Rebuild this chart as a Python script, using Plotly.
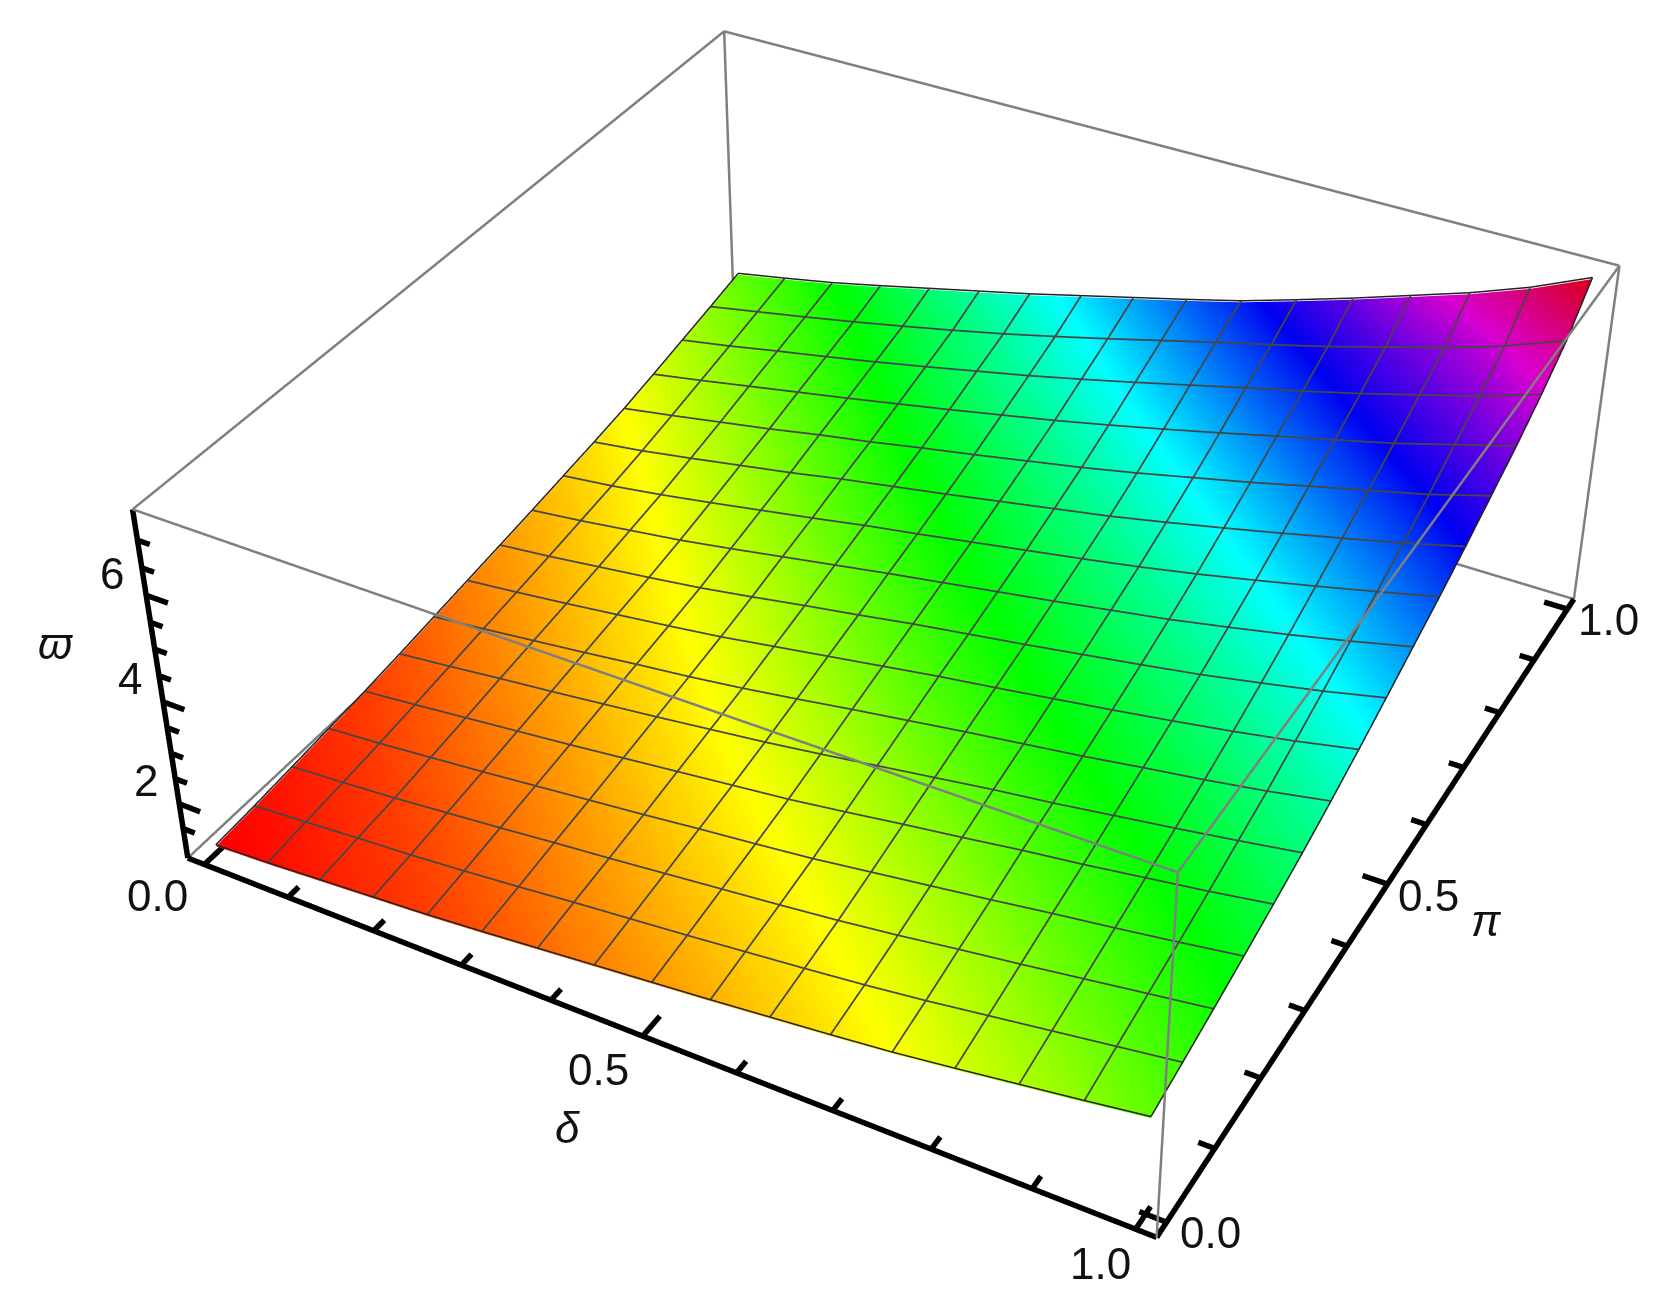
import plotly.graph_objects as go

delta = [0, 0.0625, 0.125, 0.1875, 0.25, 0.3125, 0.375, 0.4375, 0.5, 0.5625, 0.625, 0.6875, 0.75, 0.8125, 0.875, 0.9375, 1]
pi_vals = [0, 0.0625, 0.125, 0.1875, 0.25, 0.3125, 0.375, 0.4375, 0.5, 0.5625, 0.625, 0.6875, 0.75, 0.8125, 0.875, 0.9375, 1]
varpi = [
    [1.03, 1.08, 1.15, 1.22, 1.29, 1.38, 1.48, 1.58, 1.68, 1.78, 1.89, 2.00, 2.12, 2.27, 2.43, 2.59, 2.76],
    [1.08, 1.15, 1.23, 1.30, 1.39, 1.49, 1.60, 1.70, 1.80, 1.91, 2.02, 2.14, 2.28, 2.44, 2.60, 2.76, 2.92],
    [1.15, 1.22, 1.30, 1.40, 1.50, 1.61, 1.71, 1.82, 1.93, 2.04, 2.16, 2.30, 2.46, 2.61, 2.77, 2.93, 3.09],
    [1.22, 1.30, 1.40, 1.50, 1.61, 1.72, 1.83, 1.95, 2.06, 2.18, 2.33, 2.48, 2.63, 2.79, 2.94, 3.10, 3.27],
    [1.29, 1.39, 1.50, 1.61, 1.72, 1.84, 1.96, 2.08, 2.20, 2.35, 2.51, 2.66, 2.82, 2.96, 3.12, 3.28, 3.46],
    [1.38, 1.49, 1.61, 1.72, 1.84, 1.96, 2.09, 2.22, 2.37, 2.53, 2.69, 2.85, 2.99, 3.15, 3.31, 3.48, 3.66],
    [1.48, 1.59, 1.71, 1.83, 1.96, 2.08, 2.22, 2.38, 2.55, 2.71, 2.87, 3.02, 3.17, 3.34, 3.50, 3.68, 3.89],
    [1.58, 1.69, 1.81, 1.94, 2.07, 2.21, 2.38, 2.55, 2.72, 2.89, 3.04, 3.20, 3.36, 3.53, 3.71, 3.91, 4.14],
    [1.68, 1.79, 1.92, 2.05, 2.19, 2.36, 2.54, 2.71, 2.89, 3.05, 3.21, 3.38, 3.55, 3.73, 3.94, 4.16, 4.41],
    [1.78, 1.90, 2.04, 2.18, 2.35, 2.53, 2.71, 2.89, 3.06, 3.23, 3.40, 3.58, 3.76, 3.97, 4.19, 4.43, 4.69],
    [1.89, 2.01, 2.16, 2.33, 2.51, 2.69, 2.88, 3.05, 3.23, 3.41, 3.59, 3.78, 3.99, 4.22, 4.46, 4.71, 4.97],
    [2.00, 2.14, 2.31, 2.49, 2.67, 2.87, 3.05, 3.23, 3.42, 3.61, 3.80, 4.02, 4.25, 4.49, 4.74, 4.99, 5.27],
    [2.12, 2.29, 2.47, 2.65, 2.85, 3.03, 3.23, 3.42, 3.62, 3.82, 4.04, 4.28, 4.52, 4.78, 5.03, 5.29, 5.60],
    [2.27, 2.45, 2.64, 2.83, 3.02, 3.22, 3.42, 3.63, 3.84, 4.07, 4.31, 4.56, 4.82, 5.07, 5.33, 5.63, 5.93],
    [2.43, 2.61, 2.81, 3.00, 3.20, 3.41, 3.63, 3.85, 4.09, 4.34, 4.60, 4.86, 5.11, 5.38, 5.67, 5.96, 6.31],
    [2.59, 2.78, 2.97, 3.17, 3.38, 3.60, 3.83, 4.08, 4.34, 4.61, 4.88, 5.14, 5.41, 5.71, 6.00, 6.34, 6.75],
    [2.76, 2.95, 3.15, 3.38, 3.62, 3.86, 4.10, 4.36, 4.62, 4.88, 5.15, 5.47, 5.80, 6.15, 6.50, 6.90, 7.38],
]

x_range = [-0.02, 1.02]
y_range = [-0.02, 1.02]
z_range = [0.90, 7.55]
xy_major = [0.0, 0.5, 1.0]
xy_minor = [0.1, 0.2, 0.3, 0.4, 0.6, 0.7, 0.8, 0.9]
z_major = [2, 4, 6]
z_minor = [1.5, 2.5, 3, 3.5, 4.5, 5, 5.5, 6.5, 7]
z_min_value = 1.03
z_max_value = 7.42

hue = [[0, "#ff0000"], [1/6, "#ffff00"], [1/3, "#00ff00"], [1/2, "#00ffff"],
       [2/3, "#0000f0"], [5/6, "#d800d0"], [1, "#d8000f"]]


def segs(pairs):
    xs, ys, zs = [], [], []
    for a, b in pairs:
        xs += [a[0], b[0], None]
        ys += [a[1], b[1], None]
        zs += [a[2], b[2], None]
    return xs, ys, zs


def widen(rng, factor):
    mid = (rng[0] + rng[1]) / 2
    half = (rng[1] - rng[0]) / 2 * factor
    return [mid - half, mid + half]


x0, x1 = x_range
y0, y1 = y_range
z0, z1 = z_range
PAD = 1.03  # keeps lines on the box faces away from the scene's clipping planes
LIFT = 0.03  # keeps mesh lines just above the surface

box_edges = [
    ((x0, y0, z1), (x1, y0, z1)), ((x1, y0, z1), (x1, y1, z1)),
    ((x1, y1, z1), (x0, y1, z1)), ((x0, y1, z1), (x0, y0, z1)),
    ((x0, y0, z0), (x0, y1, z0)), ((x0, y1, z0), (x1, y1, z0)),
    ((x1, y0, z0), (x1, y0, z1)), ((x1, y1, z0), (x1, y1, z1)),
    ((x0, y1, z0), (x0, y1, z1)),
]
axis_edges = [
    ((x0, y0, z0), (x1, y0, z0)),
    ((x1, y0, z0), (x1, y1, z0)),
    ((x0, y0, z0), (x0, y0, z1)),
]
ticks = []
for v in xy_major:
    ticks.append(((v, y0, z0), (v, y0 + 0.03, z0)))
    ticks.append(((x1, v, z0), (x1 - 0.026, v, z0)))
for v in xy_minor:
    ticks.append(((v, y0, z0), (v, y0 + 0.017, z0)))
    ticks.append(((x1, v, z0), (x1 - 0.016, v, z0)))
for v in z_major:
    ticks.append(((x0, y0, v), (x0 + 0.025, y0, v)))
for v in z_minor:
    ticks.append(((x0, y0, v), (x0 + 0.014, y0, v)))

n = len(delta)
mesh_pairs, edge_pairs = [], []
for j in range(n):
    for i in range(n - 1):
        along_x = ((delta[i], pi_vals[j], varpi[j][i] + LIFT), (delta[i + 1], pi_vals[j], varpi[j][i + 1] + LIFT))
        along_y = ((delta[j], pi_vals[i], varpi[i][j] + LIFT), (delta[j], pi_vals[i + 1], varpi[i + 1][j] + LIFT))
        target = edge_pairs if j in (0, n - 1) else mesh_pairs
        target.append(along_x)
        target.append(along_y)

fig = go.Figure()
fig.add_trace(go.Surface(
    x=delta, y=pi_vals, z=varpi,
    surfacecolor=varpi, cmin=z_min_value, cmax=z_max_value,
    colorscale=hue, showscale=False, hoverinfo="skip",
    lighting=dict(ambient=1, diffuse=0, specular=0, roughness=1, fresnel=0),
    contours=dict(x=dict(show=False, highlight=False), y=dict(show=False, highlight=False),
                  z=dict(show=False, highlight=False)),
))
mx, my, mz = segs(mesh_pairs)
fig.add_trace(go.Scatter3d(x=mx, y=my, z=mz, mode="lines", hoverinfo="skip", showlegend=False,
                           line=dict(color="#464646", width=3.5)))
ex, ey, ez = segs(edge_pairs)
fig.add_trace(go.Scatter3d(x=ex, y=ey, z=ez, mode="lines", hoverinfo="skip", showlegend=False,
                           line=dict(color="#222222", width=3)))
bx, by, bz = segs(box_edges)
fig.add_trace(go.Scatter3d(x=bx, y=by, z=bz, mode="lines", hoverinfo="skip", showlegend=False,
                           line=dict(color="#7f7f7f", width=5)))
ax, ay, az = segs(axis_edges + ticks)
fig.add_trace(go.Scatter3d(x=ax, y=ay, z=az, mode="lines", hoverinfo="skip", showlegend=False,
                           line=dict(color="#000000", width=11)))

FONT = dict(family="Liberation Sans, Arial, sans-serif", size=44, color="#111111")


def label(x, y, z, text, dx, dy):
    return dict(x=x, y=y, z=z, text=text, showarrow=False, xshift=dx, yshift=dy,
                font=FONT, xanchor="center", yanchor="middle")


annotations = [
    label(xy_major[0], y0, z0, "0.0", -47, -31),
    label(xy_major[1], y0, z0, "0.5", -44, -33),
    label(xy_major[2], y0, z0, "1.0", -35, -34),
    label(x1, xy_major[0], z0, "0.0", 44, -10),
    label(x1, xy_major[1], z0, "0.5", 41, -11),
    label(x1, xy_major[2], z0, "1.0", 41, -10),
    label(x0, y0, z_major[0], "2", -33, 23),
    label(x0, y0, z_major[1], "4", -33, 23),
    label(x0, y0, z_major[2], "6", -34, 22),
    label(xy_major[1], y0, z0, "<i>δ</i>", -75, -91),
    label(x1, xy_major[1], z0, "<i>π</i>", 99, -36),
    label(x0, y0, z_major[1], "<i>ϖ</i>", -108, 58),
]


def hidden_axis(rng):
    return dict(range=widen(rng, PAD), visible=False, showgrid=False, zeroline=False, showline=False,
                showticklabels=False, showbackground=False, showspikes=False, title="")


# The scene is centred on the box centre, which sits off the page centre in the reference.
fig.update_layout(
    width=1826, height=1490, autosize=False,
    margin=dict(l=0, r=0, t=0, b=0), paper_bgcolor="white", showlegend=False,
    scene=dict(
        domain=dict(x=[0, 1], y=[0, 1]),
        xaxis=hidden_axis(x_range), yaxis=hidden_axis(y_range), zaxis=hidden_axis(z_range),
        aspectmode="manual", aspectratio=dict(x=PAD, y=PAD, z=0.4 * PAD),
        camera=dict(eye=dict(x=1.3, y=-2.4, z=2), center=dict(x=0, y=0, z=0), up=dict(x=0, y=0, z=1),
                    projection=dict(type="perspective")),
        annotations=annotations, bgcolor="white",
    ),
)

post = """
var root = document.documentElement, body = document.body;
root.style.overflow = 'hidden'; root.style.height = '1303px'; root.style.width = '1659px';
body.style.margin = '0'; body.style.overflow = 'hidden'; body.style.height = '1303px'; body.style.width = '1659px';
var gd = document.querySelector('.plotly-graph-div');
gd.style.marginTop = '-187px';
var g = gd._fullLayout.scene._scene.glplot;
g.fovy = 2 * Math.atan(745 / 3573);
g.redraw();
"""
fig.write_html("out.html", config=dict(displayModeBar=False), post_script=post)
